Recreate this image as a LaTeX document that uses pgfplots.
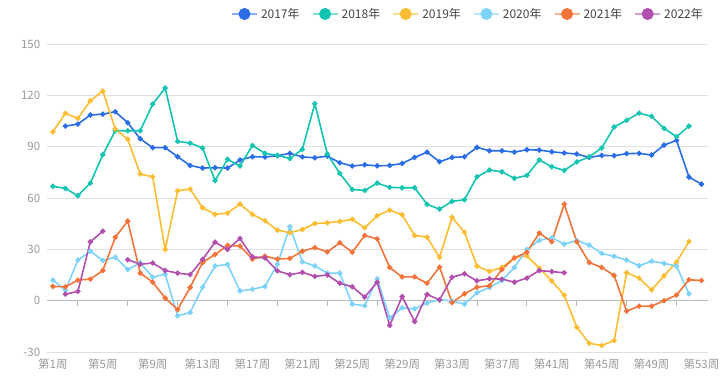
\documentclass[border=0pt]{standalone}
\usepackage{fontspec}
\setmainfont{Noto Sans CJK SC}
\usepackage{pgfplots}
\pgfplotsset{compat=1.18}
\definecolor{c17}{HTML}{2A6DE6}
\definecolor{c18}{HTML}{14C4B2}
\definecolor{c19}{HTML}{FCBD32}
\definecolor{c20}{HTML}{7ED3FB}
\definecolor{c21}{HTML}{F2743A}
\definecolor{c22}{HTML}{B24FAE}
\definecolor{gridc}{HTML}{E0E0E0}
\definecolor{labc}{HTML}{9A9A9A}
\definecolor{legc}{HTML}{444444}
\begin{document}
\begin{tikzpicture}
\useasboundingbox (-46.7pt,-30pt) rectangle (679.3pt,352pt);
\begin{axis}[
  at={(0pt,0pt)}, anchor=south west,
  scale only axis, width=661pt, height=308pt,
  xmin=0.5, xmax=53.5, ymin=-30, ymax=150,
  ytick={-30,0,30,60,90,120,150},
  xtick={1,5,9,13,17,21,25,29,33,37,41,45,49,53},
  xticklabels={第1周,第5周,第9周,第13周,第17周,第21周,第25周,第29周,第33周,第37周,第41周,第45周,第49周,第53周},
  major tick length=0pt,
  axis line style={draw=none},
  ymajorgrids, grid style={gridc, line width=0.8pt},
  tick label style={font=\fontsize{11.5}{12}\selectfont, text=labc},
  /pgf/number format/assume math mode=true,
  xticklabel style={yshift=-3pt},
  yticklabel style={xshift=-3pt},
  unbounded coords=jump,
  every axis plot/.append style={line width=1.6pt, mark=*, mark size=1.8pt},
  legend columns=6,
  legend style={at={(rel axis cs:0.9975,1)}, anchor=east, yshift=30pt, draw=none, fill=none, inner sep=0pt,
    font=\fontsize{12}{12}\selectfont, text=legc,
    /tikz/every even column/.append style={column sep=9pt},
    nodes={inner sep=3pt}},
  legend image code/.code={
    \draw[#1, line width=2pt, draw opacity=0.55, mark=none] (0pt,0pt) -- (25pt,0pt);
    \fill[#1] (12.5pt,0pt) circle (5.2pt);
  },
]
\draw[gray!55, line width=0.8pt] (axis cs:0.5,0) -- (axis cs:53.5,0);
\pgfplotsinvokeforeach{3,7,11,15,19,23,27,31,35,39,43,47,51}{
  \draw[gray!55, line width=0.8pt] (axis cs:#1,0) -- ++(0pt,-5pt);
}
% 2017
\addplot[c17] coordinates {
(2,102) (3,103.2) (4,108.5) (5,109) (6,110.4) (7,104) (8,94.6) (9,89.4) (10,89.4) (11,84.1)
(12,79) (13,77.5) (14,77.7) (15,77.5) (16,82.2) (17,84.1) (18,84) (19,84.7) (20,86.1) (21,84)
(22,83.5) (23,84.5) (24,80.6) (25,78.7) (26,79.4) (27,78.8) (28,79) (29,80.2) (30,83.7) (31,86.8)
(32,81.2) (33,83.7) (34,84.1) (35,89.6) (36,87.6) (37,87.6) (38,86.8) (39,88.2) (40,88) (41,87)
(42,86.3) (43,85.7) (44,83.7) (45,84.9) (46,84.7) (47,85.9) (48,86.1) (49,85.1) (50,90.9) (51,93.7)
(52,72.2) (53,68.1)};
\addlegendentry{2017年}
% 2018
\addplot[c18] coordinates {
(1,66.8) (2,65.6) (3,61.3) (4,68.7) (5,85.3) (6,99.3) (7,99.3) (8,99.3) (9,114.9) (10,124.3)
(11,93.1) (12,92.1) (13,89.2) (14,70.1) (15,82.6) (16,78.7) (17,90.7) (18,86.1) (19,84.9) (20,83.1)
(21,88.4) (22,115.1) (23,85.7) (24,74.4) (25,65) (26,64.4) (27,68.7) (28,66.2) (29,66) (30,66)
(31,56.3) (32,53.5) (33,58) (34,59) (35,72.4) (36,76.3) (37,75.3) (38,71.5) (39,73.2) (40,82.2)
(41,78.3) (42,76.1) (43,81) (44,84.1) (45,89.2) (46,101.5) (47,105.4) (48,109.6) (49,107.7) (50,100.7)
(51,95.8) (52,102)};
\addlegendentry{2018年}
% 2019
\addplot[c19] coordinates {
(1,98.7) (2,109.5) (3,106.5) (4,116.8) (5,122.5) (6,100.3) (7,94.3) (8,74) (9,72.4) (10,29.9)
(11,64.2) (12,65.2) (13,54.3) (14,50.4) (15,51.2) (16,56.4) (17,50.4) (18,46.7) (19,41.2) (20,39.7)
(21,41.6) (22,45.1) (23,45.5) (24,46.3) (25,47.5) (26,42.6) (27,49.6) (28,52.9) (29,50.2) (30,38.1)
(31,37.1) (32,25.3) (33,48.7) (34,40) (35,20.2) (36,17.1) (37,19.4) (38,25) (39,26.2) (40,19)
(41,11.5) (42,3.2) (43,-15.5) (44,-24.9) (45,-26.2) (46,-23.3) (47,16.3) (48,13.2) (49,6.3) (50,14.5)
(51,22.5) (52,34.6)};
\addlegendentry{2019年}
% 2020
\addplot[c20] coordinates {
(1,12) (2,6.1) (3,23.7) (4,28.9) (5,23.5) (6,25.4) (7,18.2) (8,22.1) (9,13.7) (10,15.5)
(11,-8.9) (12,-6.9) (13,7.9) (14,20.2) (15,21.2) (16,5.7) (17,6.7) (18,8.3) (19,21.3) (20,43.2)
(21,22.7) (22,20.3) (23,16.1) (24,16.1) (25,-2) (26,-3) (27,12.8) (28,-10) (29,-4.2) (30,-4.8)
(31,-1.3) (32,0.6) (33,-0.2) (34,-2) (35,4.6) (36,7.7) (37,11.8) (38,19.4) (39,29.9) (40,35.2)
(41,36.8) (42,33) (43,35.2) (44,32.5) (45,27.6) (46,25.9) (47,23.7) (48,20.4) (49,23.1) (50,21.8)
(51,20.2) (52,4)};
\addlegendentry{2020年}
% 2021
\addplot[c21] coordinates {
(1,8.3) (2,8.1) (3,12) (4,12.6) (5,17.6) (6,37) (7,46.5) (8,16.1) (9,10.8) (10,1.5)
(11,-5.2) (12,7.7) (13,22.3) (14,27) (15,32.3) (16,31.9) (17,24.3) (18,26) (19,24.3) (20,24.7)
(21,28.9) (22,31) (23,28.5) (24,33.8) (25,28.3) (26,38.1) (27,36.1) (28,19.4) (29,13.9) (30,13.9)
(31,10.2) (32,19.6) (33,-1.1) (34,4) (35,7.9) (36,8.7) (37,18.2) (38,25) (39,28.3) (40,39.5)
(41,34.5) (42,56.4) (43,34.4) (44,22.3) (45,19.4) (46,14.7) (47,-6.1) (48,-3.2) (49,-3.2) (50,0)
(51,3.3) (52,12.2) (53,11.8)};
\addlegendentry{2021年}
% 2022
\addplot[c22] coordinates {
(2,3.8) (3,5.4) (4,34.4) (5,40.6) (6,nan) (7,23.9) (8,21.3) (9,22) (10,17.6) (11,16.1)
(12,15.2) (13,24.1) (14,34.2) (15,29.9) (16,36.3) (17,25.6) (18,25) (19,17.4) (20,15.2) (21,16.5)
(22,14.2) (23,15) (24,10.2) (25,8.1) (26,2.1) (27,10.8) (28,-14.5) (29,2.4) (30,-12.2) (31,3.6)
(32,0.5) (33,13.7) (34,15.7) (35,11.6) (36,12.8) (37,12.6) (38,10.8) (39,13.2) (40,17.6) (41,17)
(42,16.3)};
\addlegendentry{2022年}
\end{axis}
\end{tikzpicture}
\end{document}
